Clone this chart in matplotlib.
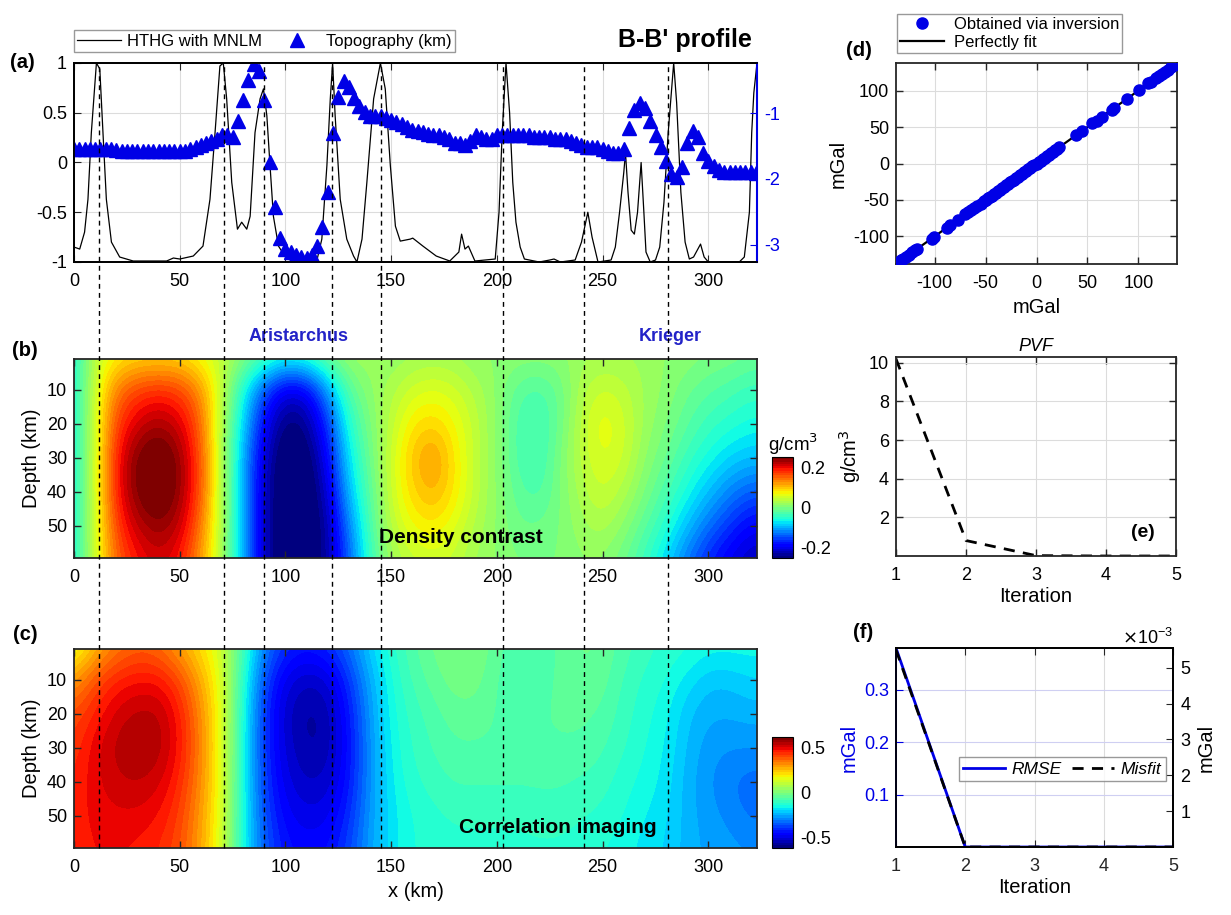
import numpy as np
import matplotlib

matplotlib.use("Agg")
import matplotlib.pyplot as plt
from matplotlib.lines import Line2D
from matplotlib.transforms import blended_transform_factory

plt.rcParams["font.family"] = ["Liberation Sans", "DejaVu Sans"]
plt.rcParams["font.size"] = 13
plt.rcParams["axes.labelsize"] = 14.5
plt.rcParams["axes.unicode_minus"] = False
plt.rcParams["xtick.direction"] = "in"
plt.rcParams["ytick.direction"] = "in"
plt.rcParams["xtick.major.pad"] = 8
plt.rcParams["ytick.major.pad"] = 5
plt.rcParams["axes.linewidth"] = 1.3

BLUE = "#0000e6"
LABEL_BLUE = "#2323c8"
AXC = "#262626"

# ---- (a) HTHG curve and topography along the profile ----
hthg_x = [0, 2.7, 5, 6.6, 8.2, 10.6, 12.2, 13.7, 15.3, 17.7, 21.6, 28, 43.8, 47, 50,
          56.4, 61, 64.3, 66.7, 69, 70.6, 72.2, 74.6, 77.3, 79.3, 81.7, 83.3, 85.6,
          88, 89.6, 91.2, 92.7, 94.3, 96.7, 100.6, 107, 114.8, 117.2, 119.6, 121.2,
          122.3, 123.5, 125.9, 129, 132.2, 133.8, 136.2, 138.5, 141.7, 144.9, 147.2,
          149.6, 152, 154.3, 159, 160.2, 165, 171.3, 177.7, 182, 183.3, 184.9, 186.5,
          189.6, 199.2, 201, 202.5, 204.3, 206, 207.5, 209, 211, 213, 220, 225, 227,
          230, 237, 240, 243, 245, 247.8, 254, 256, 258, 260, 260.8, 262, 263.5, 265,
          266.5, 268.2, 269.5, 270.5, 272.5, 275, 277, 279, 281, 283.6, 285, 287, 289,
          291, 293, 296.3, 298, 300, 314.6, 317, 319.4, 320.5, 321.5, 323]
hthg_y = [-0.85, -0.87, -0.70, -0.37, 0.30, 1.00, 0.94, 0.30, -0.37, -0.80, -0.95,
          -0.99, -0.99, -0.96, -0.97, -0.94, -0.84, -0.37, 0.30, 0.97, 1.00, 0.64,
          -0.20, -0.67, -0.60, -0.67, -0.54, 0.30, 0.64, 0.74, 0.47, -0.03, -0.54,
          -0.84, -0.97, -1.00, -0.99, -0.77, -0.03, 0.64, 1.00, 0.47, -0.37, -0.77,
          -0.94, -1.00, -0.77, -0.20, 0.64, 1.00, 0.74, -0.03, -0.64, -0.79, -0.77,
          -0.76, -0.84, -0.94, -0.99, -0.90, -0.72, -0.87, -0.84, -0.99, -0.97, -0.50,
          0.30, 1.00, 0.50, -0.20, -0.60, -0.85, -0.97, -1.00, -0.98, -0.97, -1.00,
          -0.98, -0.80, -0.50, -0.75, -1.00, -0.98, -0.85, -0.50, -0.10, 0.10, -0.30,
          -0.68, -0.72, -0.50, 0.00, -0.50, -0.90, -1.00, -0.98, -0.85, -0.40, 0.30,
          1.00, 0.60, -0.30, -0.80, -0.97, -0.95, -0.82, -0.95, -1.00, -1.00, -0.95,
          -0.50, 0.30, 0.70, 1.00]

topo_x = np.arange(0, 325, 2.5)
topo_km = [
    -1.55, -1.55, -1.55, -1.55, -1.55, -1.55, -1.55, -1.55, -1.56, -1.57,
    -1.575, -1.58, -1.58, -1.58, -1.58, -1.58, -1.58, -1.58, -1.58, -1.575,
    -1.57, -1.57, -1.54, -1.51, -1.48, -1.45, -1.42, -1.39, -1.34, -1.34,
    -1.37, -1.12, -0.80, -0.50, -0.26, -0.36, -0.80, -1.75, -2.43, -2.89,
    -3.06, -3.11, -3.15, -3.18, -3.20, -3.15, -3.015, -2.73, -2.20, -1.30,
    -0.75, -0.51, -0.60, -0.77, -0.90, -0.99, -1.04, -1.05, -1.05, -1.07,
    -1.10, -1.13, -1.16, -1.205, -1.25, -1.265, -1.28, -1.31, -1.33, -1.34,
    -1.36, -1.40, -1.45, -1.46, -1.48, -1.42, -1.34, -1.36, -1.40, -1.39,
    -1.34, -1.33, -1.33, -1.33, -1.33, -1.34, -1.34, -1.36, -1.36, -1.37,
    -1.37, -1.39, -1.39, -1.40, -1.42, -1.45, -1.48, -1.51, -1.52, -1.52,
    -1.55, -1.58, -1.60, -1.60, -1.54, -1.22, -0.96, -0.84, -0.92, -1.115,
    -1.33, -1.52, -1.72, -1.93, -1.97, -1.82, -1.45, -1.265, -1.37, -1.60,
    -1.72, -1.81, -1.87, -1.90, -1.90, -1.90, -1.90, -1.90, -1.90, -1.91,
]

boundary_x = [12, 71, 90, 122, 145, 203, 241, 281]

# ---- (b)/(c) sections: one list per x column (grid_x), values at grid_z depths ----
grid_x = np.arange(0, 321, 10)
grid_z = np.arange(0, 61, 10)

density_cols = [
    [-0.06, -0.06, -0.06, -0.06, -0.06, -0.06, -0.06],
    [0.04, 0.05, 0.05, 0.05, 0.05, 0.05, 0.05],
    [0.07, 0.14, 0.17, 0.19, 0.19, 0.17, 0.15],
    [0.08, 0.17, 0.21, 0.25, 0.25, 0.22, 0.19],
    [0.08, 0.18, 0.23, 0.27, 0.27, 0.24, 0.21],
    [0.08, 0.17, 0.21, 0.24, 0.24, 0.22, 0.19],
    [0.06, 0.13, 0.15, 0.16, 0.16, 0.14, 0.12],
    [0.04, 0.04, 0.03, 0.03, 0.03, 0.03, 0.03],
    [0.01, -0.06, -0.08, -0.10, -0.10, -0.10, -0.10],
    [-0.02, -0.15, -0.19, -0.21, -0.22, -0.22, -0.22],
    [-0.04, -0.21, -0.25, -0.27, -0.27, -0.27, -0.27],
    [-0.03, -0.20, -0.24, -0.26, -0.27, -0.27, -0.27],
    [0.00, -0.11, -0.16, -0.19, -0.21, -0.23, -0.23],
    [0.02, -0.02, -0.05, -0.07, -0.09, -0.12, -0.14],
    [0.02, 0.01, 0.00, -0.01, -0.02, -0.03, -0.04],
    [0.01, 0.03, 0.04, 0.05, 0.05, 0.04, 0.02],
    [0.02, 0.05, 0.08, 0.10, 0.09, 0.07, 0.04],
    [0.02, 0.06, 0.09, 0.13, 0.11, 0.08, 0.05],
    [0.02, 0.05, 0.07, 0.08, 0.08, 0.06, 0.04],
    [0.01, 0.03, 0.04, 0.04, 0.04, 0.03, 0.02],
    [0.01, 0.01, 0.01, 0.01, 0.01, 0.01, 0.01],
    [0.01, -0.02, -0.03, -0.03, -0.02, -0.01, 0.00],
    [0.01, -0.03, -0.04, -0.04, -0.03, -0.01, 0.00],
    [0.01, -0.01, -0.01, 0.00, 0.00, 0.00, 0.00],
    [0.02, 0.03, 0.04, 0.04, 0.03, 0.02, 0.01],
    [0.02, 0.05, 0.07, 0.06, 0.05, 0.03, 0.01],
    [0.02, 0.04, 0.05, 0.05, 0.03, 0.01, -0.01],
    [0.02, 0.02, 0.02, 0.01, 0.00, -0.02, -0.04],
    [0.01, 0.01, 0.00, -0.01, -0.03, -0.05, -0.08],
    [0.01, -0.01, -0.02, -0.04, -0.06, -0.09, -0.13],
    [0.00, -0.02, -0.04, -0.06, -0.09, -0.13, -0.17],
    [0.00, -0.03, -0.05, -0.08, -0.12, -0.16, -0.20],
    [-0.01, -0.04, -0.06, -0.09, -0.14, -0.19, -0.22],
]

correlation_cols = [
    [0.12, 0.30, 0.40, 0.43, 0.45, 0.46, 0.46],
    [0.25, 0.40, 0.46, 0.50, 0.50, 0.49, 0.48],
    [0.33, 0.46, 0.52, 0.55, 0.53, 0.50, 0.48],
    [0.37, 0.48, 0.55, 0.57, 0.54, 0.50, 0.47],
    [0.35, 0.48, 0.55, 0.56, 0.52, 0.48, 0.45],
    [0.28, 0.41, 0.47, 0.48, 0.45, 0.42, 0.40],
    [0.20, 0.28, 0.32, 0.33, 0.32, 0.30, 0.29],
    [0.12, 0.14, 0.15, 0.15, 0.15, 0.14, 0.13],
    [-0.08, -0.12, -0.14, -0.15, -0.15, -0.15, -0.15],
    [-0.30, -0.37, -0.40, -0.40, -0.39, -0.37, -0.35],
    [-0.40, -0.50, -0.53, -0.52, -0.50, -0.47, -0.44],
    [-0.43, -0.54, -0.58, -0.57, -0.54, -0.50, -0.46],
    [-0.40, -0.52, -0.56, -0.56, -0.53, -0.49, -0.45],
    [-0.32, -0.40, -0.44, -0.45, -0.44, -0.41, -0.38],
    [-0.20, -0.25, -0.27, -0.28, -0.28, -0.27, -0.26],
    [-0.12, -0.14, -0.15, -0.16, -0.17, -0.18, -0.18],
    [-0.06, -0.08, -0.10, -0.11, -0.12, -0.14, -0.14],
    [-0.02, -0.04, -0.07, -0.08, -0.10, -0.12, -0.13],
    [0.00, -0.01, -0.04, -0.06, -0.08, -0.11, -0.12],
    [0.00, -0.01, -0.04, -0.06, -0.08, -0.11, -0.12],
    [-0.04, -0.06, -0.06, -0.06, -0.08, -0.11, -0.12],
    [-0.09, -0.08, -0.07, -0.07, -0.08, -0.11, -0.12],
    [-0.08, -0.07, -0.06, -0.06, -0.08, -0.10, -0.12],
    [-0.05, -0.05, -0.05, -0.06, -0.08, -0.10, -0.12],
    [-0.02, -0.03, -0.05, -0.06, -0.09, -0.11, -0.13],
    [-0.03, -0.04, -0.06, -0.08, -0.10, -0.12, -0.14],
    [-0.07, -0.09, -0.10, -0.11, -0.13, -0.14, -0.16],
    [-0.10, -0.12, -0.13, -0.14, -0.15, -0.17, -0.18],
    [-0.12, -0.14, -0.16, -0.17, -0.18, -0.19, -0.20],
    [-0.13, -0.18, -0.22, -0.23, -0.24, -0.24, -0.24],
    [-0.15, -0.22, -0.25, -0.27, -0.28, -0.27, -0.26],
    [-0.15, -0.22, -0.25, -0.28, -0.31, -0.29, -0.27],
    [-0.15, -0.20, -0.24, -0.28, -0.33, -0.32, -0.28],
]

# ---- (d) observed vs inverted gravity ----
gravity_obs = [-137, -135, -133, -131, -128, -125, -122, -119, -117, -103, -101, -88,
               -85, -77, -70, -67, -64, -61, -58, -55, -52, -50, -48, -46, -44, -42,
               -40, -38, -36, -34, -32, -30, -28, -26, -24, -22, -20, -18, -16, -14,
               -12, -10, -8, -6, -4, -2, 0, 2, 4, 6, 8, 10, 12, 14, 16, 18, 20, 22,
               39, 45, 55, 59, 64, 74, 76, 89, 101, 110, 112, 117, 120, 123, 126,
               129, 132, 135, 137]
gravity_inv = list(gravity_obs)

# ---- (e)/(f) convergence ----
iterations = [1, 2, 3, 4, 5]
pvf = [10.2, 0.8, 0.02, 0.0, 0.0]
rmse = [0.38, 0.0, 0.0, 0.0, 0.0]
misfit = [5.5e-3, 0.0, 0.0, 0.0, 0.0]


def box_ticks(ax):
    ax.tick_params(top=True, right=True, length=5, width=1, colors=AXC, labelcolor="k")
    for s in ax.spines.values():
        s.set_color(AXC)


def section(ax, cols, vmax):
    # smooth rendering of the gridded section; cells are centred on grid nodes
    dx = grid_x[1] - grid_x[0]
    dz = grid_z[1] - grid_z[0]
    extent = (grid_x[0] - dx / 2, grid_x[-1] + dx / 2,
              grid_z[-1] + dz / 2, grid_z[0] - dz / 2)
    im = ax.imshow(np.array(cols).T, cmap=plt.get_cmap("jet", 44), vmin=-vmax, vmax=vmax,
                   extent=extent, origin="upper", aspect="auto",
                   interpolation="bicubic", interpolation_stage="data")
    ax.set_xlim(0, XMAX)
    ax.set_ylim(59.5, 1)
    ax.set_yticks([10, 20, 30, 40, 50])
    ax.set_xticks(range(0, 301, 50))
    ax.set_ylabel("Depth (km)")
    box_ticks(ax)
    return im


fig = plt.figure(figsize=(12.31, 9.15), dpi=100)
W, H = 1231.0, 915.0


def rect(x0, y0, x1, y1):
    return [x0 / W, 1 - y1 / H, (x1 - x0) / W, (y1 - y0) / H]


XMAX = 323

# (a)
ax_a = fig.add_axes(rect(74, 63, 757, 262))
ln, = ax_a.plot(hthg_x, hthg_y, color="k", lw=0.9, label="HTHG with MNLM")
ax_a.set_xlim(0, XMAX)
ax_a.set_ylim(-1, 1)
ax_a.set_yticks([-1, -0.5, 0, 0.5, 1], labels=["-1", "-0.5", "0", "0.5", "1"])
ax_a.set_xticks(range(0, 301, 50))
ax_a.grid(True, color="#dcdcdc", lw=0.8)
ax_a.tick_params(top=True, right=False, length=5, colors=AXC, labelcolor="k")
ax_t = ax_a.twinx()
tri, = ax_t.plot(topo_x, topo_km, "^", color=BLUE, ms=10, mec=BLUE,
                 label="Topography (km)")
ax_t.set_ylim(-3.26, -0.24)
ax_t.set_yticks([-3, -2, -1])
ax_t.tick_params(axis="y", colors=BLUE, length=5)
ax_t.spines["right"].set_color(BLUE)
ax_t.spines["right"].set_linewidth(1.5)
ax_a.legend(handles=[ln, tri], ncol=2, loc="lower left", bbox_to_anchor=(0.0, 1.055),
            borderaxespad=0, fancybox=False, edgecolor="#808080", fontsize=12,
            handlelength=2.6, columnspacing=0.8, borderpad=0.2, handletextpad=0.4)

# (b) density contrast
ax_b = fig.add_axes(rect(74, 359, 757, 558))
im_b = section(ax_b, density_cols, 0.25)
ax_b.text(183, 53.5, "Density contrast", ha="center", va="center",
          fontsize=15, weight="bold")
tb = blended_transform_factory(ax_b.transData, ax_b.transAxes)
ax_b.text(106, 1.115, "Aristarchus", transform=tb, ha="center", va="center",
          color=LABEL_BLUE, fontsize=13, weight="bold")
ax_b.text(282, 1.115, "Krieger", transform=tb, ha="center", va="center",
          color=LABEL_BLUE, fontsize=13, weight="bold")
cax_b = fig.add_axes(rect(772, 457, 793, 558))
cb_b = fig.colorbar(im_b, cax=cax_b, ticks=[-0.2, 0, 0.2])
cb_b.ax.set_yticklabels(["-0.2", "0", "0.2"])
cb_b.ax.tick_params(length=0, labelsize=13)
cb_b.outline.set_linewidth(0.8)
cax_b.set_title("g/cm$^3$", fontsize=13.5, pad=4, x=1.0)

# (c) correlation imaging
ax_c = fig.add_axes(rect(74, 649, 757, 848))
im_c = section(ax_c, correlation_cols, 0.62)
ax_c.set_xlabel("x (km)")
ax_c.text(229, 53.5, "Correlation imaging", ha="center", va="center",
          fontsize=15, weight="bold")
cax_c = fig.add_axes(rect(772, 737, 793, 848))
cb_c = fig.colorbar(im_c, cax=cax_c, ticks=[-0.5, 0, 0.5])
cb_c.ax.set_yticklabels(["-0.5", "0", "0.5"])
cb_c.ax.tick_params(length=0, labelsize=13)
cb_c.outline.set_linewidth(0.8)

# dashed boundaries running through (a)-(c)
inv = fig.transFigure.inverted()
y_top = ax_a.get_position().y1
y_bot = ax_c.get_position().y0
for xv in boundary_x:
    fx = inv.transform(ax_a.transData.transform((xv, 0)))[0]
    fig.add_artist(Line2D([fx, fx], [y_bot, y_top], transform=fig.transFigure,
                          color="k", lw=1.0, dashes=(3.5, 3), zorder=5))

# (d)
ax_d = fig.add_axes(rect(896, 63, 1177, 264))
lims = [min(gravity_obs), max(gravity_obs)]
p_fit, = ax_d.plot(lims, lims, color="k", lw=1.6, label="Perfectly fit", zorder=2)
p_inv, = ax_d.plot(gravity_obs, gravity_inv, "o", color=BLUE, ms=8,
                   label="Obtained via inversion", zorder=3)
ax_d.set_xlim(-138, 138)
ax_d.set_ylim(-138, 138)
ax_d.set_xticks([-100, -50, 0, 50, 100])
ax_d.set_yticks([-100, -50, 0, 50, 100])
ax_d.grid(True, color="#dcdcdc", lw=0.8)
ax_d.set_xlabel("mGal")
ax_d.set_ylabel("mGal")
box_ticks(ax_d)
ax_d.legend(handles=[p_inv, p_fit], loc="lower left", bbox_to_anchor=(0.004, 1.05),
            borderaxespad=0, fancybox=False, edgecolor="#808080", fontsize=12,
            handlelength=2.6, borderpad=0.2, labelspacing=0.15, handletextpad=0.6)

# (e)
ax_e = fig.add_axes(rect(896, 357, 1176, 556))
ax_e.plot(iterations, pvf, color="k", lw=2, dashes=(4, 3))
ax_e.set_xlim(1, 5)
ax_e.set_ylim(0, 10.3)
ax_e.set_xticks(iterations)
ax_e.set_yticks([2, 4, 6, 8, 10])
ax_e.grid(True, color="#dcdcdc", lw=0.8)
ax_e.set_title("PVF", fontsize=13, style="italic", pad=4)
ax_e.set_xlabel("Iteration", labelpad=2)
ax_e.set_ylabel("g/cm$^3$")
box_ticks(ax_e)
ax_e.text(0.88, 0.12, "(e)", transform=ax_e.transAxes, ha="center", va="center",
          fontsize=14, weight="bold")

# (f)
ax_f = fig.add_axes(rect(896, 648, 1173, 847))
l_rmse, = ax_f.plot(iterations, rmse, color=BLUE, lw=2, label="RMSE")
ax_f.set_xlim(1, 5)
ax_f.set_ylim(0, 0.38)
ax_f.set_xticks(iterations)
ax_f.set_yticks([0.1, 0.2, 0.3], labels=["0.1", "0.2", "0.3"])
ax_f.xaxis.grid(True, color="#dcdcdc", lw=0.8)
ax_f.yaxis.grid(True, color="#cfcff2", lw=0.8)
ax_f.tick_params(top=True, length=5, colors=AXC)
ax_f.tick_params(axis="y", colors=BLUE)
ax_f.spines["left"].set_color(BLUE)
ax_f.set_ylabel("mGal", color=BLUE)
ax_f.set_xlabel("Iteration", labelpad=2)
ax_f2 = ax_f.twinx()
l_mis, = ax_f2.plot(iterations, misfit, color="k", lw=2, dashes=(4, 3), label="Misfit")
ax_f2.set_ylim(0, 5.55e-3)
ax_f2.set_yticks([1e-3, 2e-3, 3e-3, 4e-3, 5e-3])
ax_f2.ticklabel_format(axis="y", style="sci", scilimits=(0, 0), useMathText=True)
ax_f2.yaxis.get_offset_text().set_fontsize(13)
ax_f2.tick_params(axis="y", length=5, colors=AXC, labelcolor="k")
ax_f2.set_ylabel("mGal")
ax_f2.legend(handles=[l_rmse, l_mis], ncol=2, loc="center", bbox_to_anchor=(0.6, 0.39),
             fancybox=False, edgecolor="#808080", prop={"style": "italic", "size": 12.5},
             handlelength=2.4, columnspacing=0.6, borderpad=0.25, handletextpad=0.4)

# panel letters and title
fig.text(22 / W, 1 - 62 / H, "(a)", fontsize=14.5, weight="bold", ha="center", va="center")
fig.text(25 / W, 1 - 351 / H, "(b)", fontsize=14.5, weight="bold", ha="center", va="center")
fig.text(25 / W, 1 - 635 / H, "(c)", fontsize=14.5, weight="bold", ha="center", va="center")
fig.text(859 / W, 1 - 50 / H, "(d)", fontsize=14.5, weight="bold", ha="center", va="center")
fig.text(863 / W, 1 - 633 / H, "(f)", fontsize=14.5, weight="bold", ha="center", va="center")
fig.text(685 / W, 1 - 40 / H, "B-B' profile", fontsize=18, weight="bold",
         ha="center", va="center")

fig.savefig("out.png", dpi=100)
